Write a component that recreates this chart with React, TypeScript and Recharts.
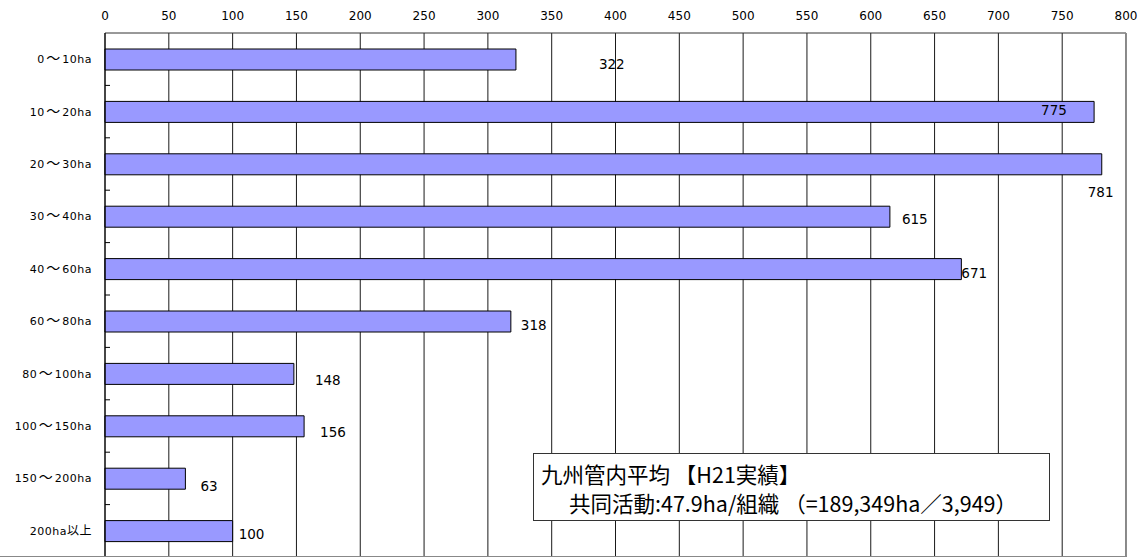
import { BarChart, Bar, XAxis, YAxis, CartesianGrid, LabelList } from "recharts";

const categories = [
  "0～10ha",
  "10～20ha",
  "20～30ha",
  "30～40ha",
  "40～60ha",
  "60～80ha",
  "80～100ha",
  "100～150ha",
  "150～200ha",
  "200ha以上",
];
const counts = [322, 775, 781, 615, 671, 318, 148, 156, 63, 100];
const xTicks = [0, 50, 100, 150, 200, 250, 300, 350, 400, 450, 500, 550, 600, 650, 700, 750, 800];

// hand-placed label nudges, like the original spreadsheet
const labelDx = [83, -53, -14, 12, 0, 10, 21, 16, 15, 6];
const labelDy = [4, -2, 28, 2, 4, 3, 6, 6, 7, 3];

const data = categories.map((name, i) => ({ name, count: counts[i] }));

const latin = "'DejaVu Sans', Verdana, sans-serif";
const cjk = "'Noto Sans CJK JP', sans-serif";

function CategoryTick(props: any) {
  const { x, y, payload, index } = props;
  const half = payload?.offset || 26.2;
  const parts = String(payload.value).split("～");
  return (
    <g>
      <text
        x={x}
        y={y}
        dy={4}
        textAnchor="end"
        fontSize={11}
        letterSpacing={0.5}
        fontFamily={latin}
        fill="#000"
      >
        {parts.map((p, i) => (
          <tspan key={i}>
            {i > 0 && (
              <tspan fontFamily={cjk} fontSize={14} dx={1.5}>
                ～
              </tspan>
            )}
            <tspan dx={i > 0 ? 1.5 : 0}>{p.replace("以上", "")}</tspan>
            {p.includes("以上") && (
              <tspan fontFamily={cjk} fontSize={12}>
                以上
              </tspan>
            )}
          </tspan>
        ))}
      </text>
      {index < categories.length - 1 && (
        <line x1={x + 13} x2={x + 18} y1={y + half} y2={y + half} stroke="#000" />
      )}
    </g>
  );
}

function CountLabel(props: any) {
  const { x, y, width, height, value, index } = props;
  return (
    <text
      x={x + width + labelDx[index]}
      y={y + height / 2 + labelDy[index]}
      dy={5}
      fontSize={13.5}
      fontFamily={latin}
      fill="#000"
    >
      {value}
    </text>
  );
}

export default function App() {
  return (
    <div style={{ position: "absolute", left: 0, top: 0, width: 1146, height: 559, background: "#fff" }}>
      <BarChart
        width={1146}
        height={559}
        data={data}
        layout="vertical"
        margin={{ top: 0, right: 20, bottom: 2, left: 0 }}
        barSize={21}
      >
        <CartesianGrid horizontal={false} stroke="#000" strokeOpacity={0.9} />
        <XAxis
          type="number"
          orientation="top"
          domain={[0, 800]}
          ticks={xTicks}
          height={33}
          tickSize={0}
          tickMargin={13}
          axisLine={{ stroke: "#333" }}
          tick={{ fill: "#000", fontSize: 12, fontFamily: latin }}
        />
        <YAxis
          type="category"
          dataKey="name"
          width={105}
          tickSize={0}
          tickMargin={13}
          tickLine={false}
          axisLine={{ stroke: "#000" }}
          tick={<CategoryTick />}
          interval={0}
        />
        <Bar dataKey="count" fill="#9999FF" stroke="#000" strokeWidth={1} isAnimationActive={false}>
          <LabelList dataKey="count" content={<CountLabel />} />
        </Bar>
      </BarChart>
      <div
        style={{
          position: "absolute",
          left: 0,
          top: 556,
          width: 1127,
          height: 1,
          background: "#888",
        }}
      />
      <div
        style={{
          position: "absolute",
          left: 1125,
          top: 33,
          width: 1,
          height: 524,
          background: "#888",
        }}
      />
      <div
        style={{
          position: "absolute",
          left: 533,
          top: 453,
          width: 517,
          height: 68,
          border: "1px solid #333",
          background: "#fff",
          boxSizing: "border-box",
          fontFamily: cjk,
          fontSize: 21.5,
          lineHeight: "29px",
          color: "#000",
          padding: "5px 0 0 7px",
          whiteSpace: "nowrap",
        }}
      >
        <div>九州管内平均 【H21実績】</div>
        <div style={{ paddingLeft: 28 }}>共同活動:47.9ha/組織 （=189,349ha／3,949）</div>
      </div>
    </div>
  );
}
